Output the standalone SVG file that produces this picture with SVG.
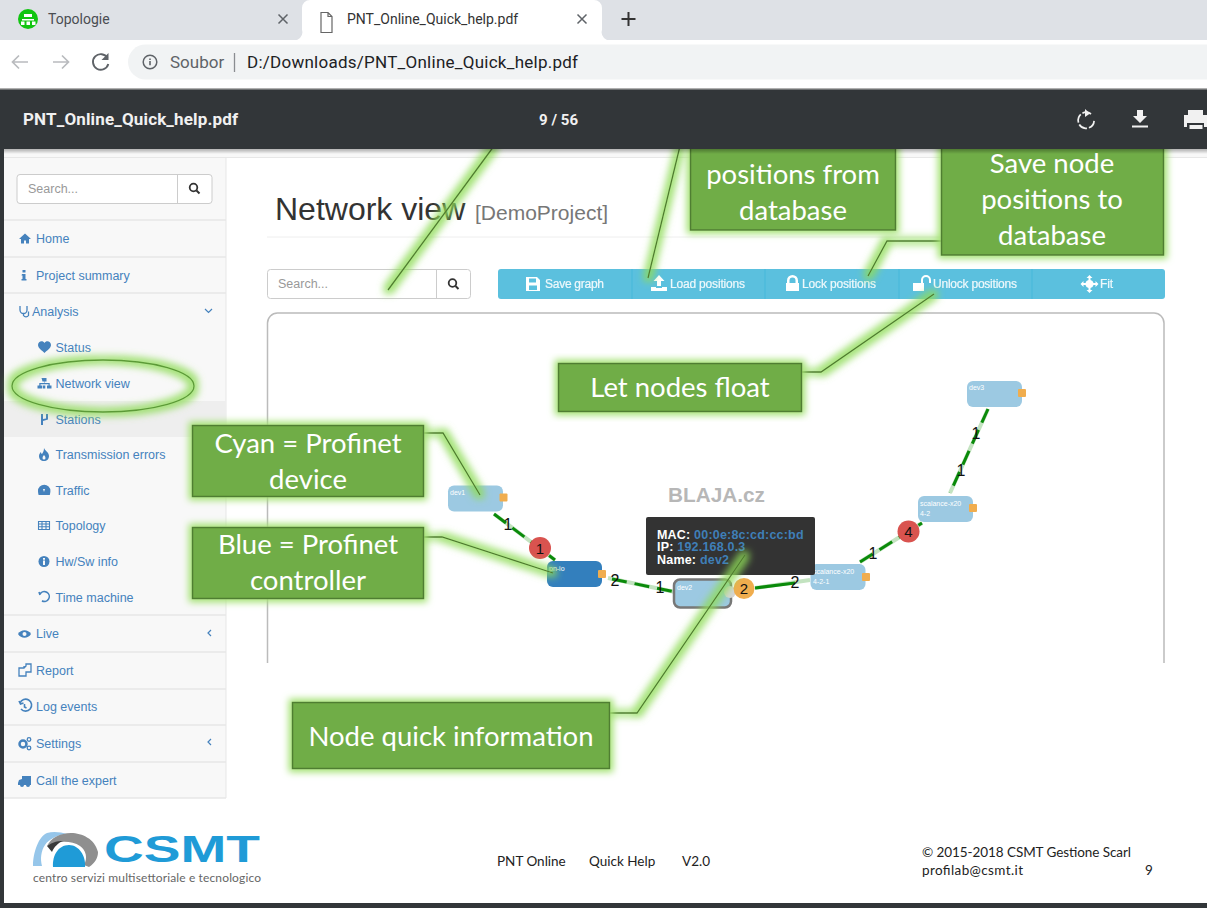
<svg xmlns="http://www.w3.org/2000/svg" width="1207" height="908" viewBox="0 0 1207 908">
<defs>
<style>
.r{font-family:Roboto,"Liberation Sans",sans-serif}
.s{font-family:"Liberation Sans",Arial,sans-serif}
.side{font-size:12.5px;fill:#4582bd}
.icon{fill:#4582bd}
.sep{stroke:#e7e7e7;stroke-width:1.5}
.box{fill:#70ad47;stroke:#507e32;stroke-width:1.500}
.ct{font-family:Lato,"Noto Sans",sans-serif;font-size:27.500px;fill:#fff;text-anchor:middle}
.tb{font-size:12px;fill:#fff;stroke:#fff;stroke-width:.2;opacity:.9}
.tbi{fill:#fff}
.ln{fill:#fff;stroke:#ccc;stroke-width:1}
.ph{font-size:12.5px;fill:#999}
.n{fill:#9cc9e2}
.nt{font-size:7px;fill:#fff}
.port{fill:#f0ad4e}
.eb{stroke:#c3e3c0;stroke-width:4;fill:none}
.ef{stroke:#0a8a0a;stroke-width:3;fill:none;stroke-dasharray:15 8}
.el{font-family:"Liberation Sans",sans-serif;font-size:16px;fill:#111;text-anchor:middle}
.foot{font-family:Lato,"Noto Sans",sans-serif;font-size:13.5px;fill:#222}
.tip{font-size:12.5px;font-weight:bold;fill:#fff;letter-spacing:.2px}
.tipv{fill:#3f7fb8}
</style>
<filter id="glow" x="-20%" y="-20%" width="140%" height="140%" filterUnits="objectBoundingBox">
<feMorphology in="SourceAlpha" operator="dilate" radius="3" result="d"/>
<feGaussianBlur in="d" stdDeviation="3.5" result="b"/>
<feFlood flood-color="#a3e272"/>
<feComposite in2="b" operator="in" result="g"/>
<feMerge><feMergeNode in="g"/><feMergeNode in="SourceGraphic"/></feMerge>
</filter>
<filter id="glowL" x="-20" y="-20" width="1300" height="1000" filterUnits="userSpaceOnUse">
<feMorphology in="SourceAlpha" operator="dilate" radius="3.5" result="d"/>
<feGaussianBlur in="d" stdDeviation="3.5" result="b"/>
<feFlood flood-color="#8fdc58" flood-opacity=".8"/>
<feComposite in2="b" operator="in" result="g"/>
<feMerge><feMergeNode in="g"/><feMergeNode in="SourceGraphic"/></feMerge>
</filter>
<linearGradient id="shade" x1="0" y1="0" x2="0" y2="1"><stop offset="0" stop-color="#000" stop-opacity=".3"/><stop offset="1" stop-color="#000" stop-opacity="0"/></linearGradient>
</defs>

<rect width="1207" height="908" fill="#fff"/>

<g id="page">
<rect x="0" y="149" width="4" height="759" fill="#323639"/>
<rect x="0" y="903" width="1207" height="5" fill="#323639"/>
<rect x="4" y="150" width="1203" height="8" fill="#f8f8f8"/>
<rect x="4" y="158" width="222" height="640" fill="#f8f8f8"/>
<line x1="226" y1="158" x2="226" y2="798" stroke="#e7e7e7"/>
<line x1="4" y1="157.500" x2="1207" y2="157.500" stroke="#e7e7e7"/>
<rect x="4" y="401" width="222" height="36" fill="#eeeeee"/>
<g class="seps">
<line class="sep" x1="4" x2="226" y1="220" y2="220"/>
<line class="sep" x1="4" x2="226" y1="257" y2="257"/>
<line class="sep" x1="4" x2="226" y1="293" y2="293"/>
<line class="sep" x1="4" x2="226" y1="615" y2="615"/>
<line class="sep" x1="4" x2="226" y1="652" y2="652"/>
<line class="sep" x1="4" x2="226" y1="689" y2="689"/>
<line class="sep" x1="4" x2="226" y1="725" y2="725"/>
<line class="sep" x1="4" x2="226" y1="762" y2="762"/>
<line class="sep" x1="4" x2="226" y1="798" y2="798"/>
</g>
</g>

<g id="sidebar-search">
<rect class="ln" x="17" y="174.500" width="195" height="29" rx="3"/>
<line x1="177.500" x2="177.500" y1="175" y2="203" stroke="#ccc"/>
<text class="s ph" x="28" y="193">Search...</text>
<circle cx="193.500" cy="187.500" r="3.800" fill="none" stroke="#333" stroke-width="1.800"/>
<line x1="196.500" y1="190.500" x2="199.500" y2="193.500" stroke="#333" stroke-width="2"/>
</g>

<g id="sidebar-menu">
<path class="icon" d="M19 239l6-5.500 6 5.500h-2v4.500h-3v-3h-2v3h-3v-4.500z"/>
<text class="s side" x="36" y="243">Home</text>
<path class="icon" d="M22.500 270h3v2.500h-3zM22 274h3.500v5h1v1.500h-5V279h1v-3.500h-1z"/>
<text class="s side" x="36" y="279.500">Project summary</text>
<path d="M20 306v4a3.500 3.500 0 0 0 7 0v-4M23.500 314v1.500a3 3 0 0 0 5 0v-4" fill="none" stroke="#4582bd" stroke-width="1.300"/>
<text class="s side" x="32" y="316">Analysis</text>
<path d="M205 309l3.500 3.500 3.500-3.500" fill="none" stroke="#4582bd" stroke-width="1.200"/>
<path class="icon" d="M38 345c0-4 5-5 6.500-2 1.500-3 6.500-2 6.500 2 0 3-4 5.500-6.500 8-2.500-2.500-6.500-5-6.500-8z"/>
<text class="s side" x="55.500" y="352">Status</text>
<path class="icon" d="M41.500 378h5v3.500h-1.800v1.500h5v2.500h1.800v3h-4.500v-3h1.500v-1.300h-8v1.300h1.500v3h-4.500v-3h1.800V383h5v-1.500h-1.800zM42.700 385.500h2.600v3h-2.600z"/>
<text class="s side" x="55.500" y="388">Network view</text>
<path class="icon" d="M41 414h2v5l3-.5V414h2v5.500l-5 1.500v4h-2z"/>
<text class="s side" x="55.500" y="424">Stations</text>
<path class="icon" d="M44 448c1 3 5 4 5 8 0 3-2 5-5 5s-5-2-5-5c0-2 1-3 2-4 0 1 .5 2 1 2 1-2 2-3 2-6zM44 455c-1 1-1.500 2-1.500 3a1.500 1.500 0 0 0 3 0c0-1-.5-2-1.500-3z"/>
<text class="s side" x="55.500" y="459">Transmission errors</text>
<path class="icon" d="M38 491a6.200 6.200 0 1 1 12.400 0c0 1-.3 3-.6 4h-11.200c-.3-1-.6-3-.6-4zM43 489l1 3 1-3z" fill-rule="evenodd"/>
<text class="s side" x="55.500" y="495">Traffic</text>
<path d="M38.500 521.500h11v8h-11zM38.500 524h11M38.500 526.700h11M42 521.500v8M46 521.500v8" fill="none" stroke="#4582bd" stroke-width="1.100"/>
<text class="s side" x="55.500" y="530">Topology</text>
<circle class="icon" cx="44" cy="561.500" r="5.500"/><path d="M43 558h2v1.700h-2zM43 560.500h2v4.500h-2z" fill="#f8f8f8"/>
<text class="s side" x="55.500" y="566">Hw/Sw info</text>
<path d="M40 594a5 5 0 1 1 2 7l3 .5M39 592l1 3" fill="none" stroke="#4582bd" stroke-width="1.600"/>
<text class="s side" x="55.500" y="602">Time machine</text>
<path class="icon" d="M18 634c3-5 10-5 13 0-3 5-10 5-13 0z"/><circle cx="24.500" cy="634" r="2" fill="#f8f8f8"/>
<text class="s side" x="36" y="638">Live</text>
<path d="M211 630l-3 3 3 3" fill="none" stroke="#4582bd" stroke-width="1.200"/>
<path d="M19 668h5l2-2v-2h5v8h-5v4h-7zM24 668v-2" fill="none" stroke="#4582bd" stroke-width="1.300"/>
<text class="s side" x="36" y="675">Report</text>
<path d="M20 703a6 6 0 1 1 1 6M19 701l1.500 3 3-1M24.500 704v3l2 1" fill="none" stroke="#4582bd" stroke-width="1.600"/>
<text class="s side" x="36" y="711">Log events</text>
<circle cx="23" cy="744" r="3.500" fill="none" stroke="#4582bd" stroke-width="2.500"/><circle cx="29" cy="739.500" r="1.800" fill="none" stroke="#4582bd" stroke-width="1.300"/><circle cx="29" cy="748" r="1.800" fill="none" stroke="#4582bd" stroke-width="1.300"/>
<text class="s side" x="36" y="748">Settings</text>
<path d="M211 739l-3 3 3 3" fill="none" stroke="#4582bd" stroke-width="1.200"/>
<path class="icon" d="M18 783l1-3 3-1v-3h9v9H18z"/><circle class="icon" cx="22" cy="785" r="2"/><circle class="icon" cx="28" cy="785" r="2"/>
<text class="s side" x="36" y="785">Call the expert</text>
</g>

<g id="header">
<text class="s" x="275" y="220" font-size="32" fill="#333">Network view</text>
<text class="s" x="475" y="220" font-size="21" fill="#777">[DemoProject]</text>
<line x1="267" x2="1164" y1="237" y2="237" stroke="#eee"/>
</g>

<g id="page-search">
<rect class="ln" x="267.500" y="269.500" width="203" height="29" rx="3"/>
<line x1="436.500" x2="436.500" y1="270" y2="298" stroke="#ccc"/>
<text class="s ph" x="278" y="288">Search...</text>
<circle cx="452.500" cy="283" r="3.800" fill="none" stroke="#333" stroke-width="1.800"/>
<line x1="455.500" y1="286" x2="458.500" y2="289" stroke="#333" stroke-width="2"/>
</g>

<g id="toolbar">
<rect x="498" y="269" width="667" height="30" rx="3" fill="#5bc0de"/>
<path stroke="#46b8da" stroke-width="1" d="M632 269v30M765 269v30M899 269v30M1032 269v30"/>
<path class="tbi" d="M526 277h11l3 3v11h-14zM529 278.500v4h7v-4zM529 285.500v4.500h8v-4.500z" fill-rule="evenodd"/>
<text class="s tb" x="545" y="288" textLength="59">Save graph</text>
<path class="tbi" d="M659 275l5.500 6H661v5h-4v-5h-3.500zM651 287h5v1h6v-1h5v4h-16z"/>
<text class="s tb" x="670" y="288" textLength="75">Load positions</text>
<path class="tbi" d="M787 283v-2.500a5.500 5.500 0 0 1 11 0V283h1v8h-13v-8zM789.500 283h6v-2.500a3 3 0 0 0-6 0z"/>
<text class="s tb" x="802" y="288" textLength="74">Lock positions</text>
<path class="tbi" d="M913 283h8v-3a5 5 0 0 1 10 0v3h-2v-3a3 3 0 0 0-6 0v3h1v8h-11z"/>
<text class="s tb" x="933" y="288" textLength="84">Unlock positions</text>
<path class="tbi" d="M1089.500 275l3 3h-2v2a4 4 0 0 1 3 3h2v-2l3 3-3 3v-2h-2a4 4 0 0 1-3 3v2h2l-3 3-3-3h2v-2a4 4 0 0 1-3-3h-2v2l-3-3 3-3v2h2a4 4 0 0 1 3-3v-2h-2z"/>
<text class="s tb" x="1100" y="288" textLength="13">Fit</text>
</g>

<path id="graph-frame" d="M267.500 663V323a10 10 0 0 1 10-10H1154a10 10 0 0 1 10 10V663" fill="#fff" stroke="#bbb" stroke-width="1.500"/>

<text id="watermark" class="s" x="668" y="501.500" font-size="20" font-weight="bold" fill="#b7b7b7" textLength="97" lengthAdjust="spacingAndGlyphs">BLAJA.cz</text>

<g id="connectors">
<path class="eb" d="M494 514L555 560"/><path class="ef" d="M494 514L555 560"/>
<path class="eb" d="M608 578L675 592"/><path class="ef" d="M612 579L675 592"/>
<path class="eb" d="M755 588L810 580"/><path class="ef" d="M755 588L795 583" style="stroke-dasharray:none"/>
<path class="eb" d="M860 562L922 523"/><path class="ef" d="M860 562L922 523"/>
<path class="eb" d="M988 409L950 493"/><path class="ef" d="M988 409L950 493"/>
</g>

<g id="edge-labels">
<text class="el" x="508" y="530">1</text>
<text class="el" x="615" y="586">2</text>
<text class="el" x="660" y="593">1</text>
<text class="el" x="795" y="588">2</text>
<text class="el" x="873" y="559">1</text>
<text class="el" x="961" y="476">1</text>
<text class="el" x="976" y="439">1</text>
</g>

<g id="node-dev1">
<rect class="n" x="448" y="485.500" width="55" height="26" rx="6"/>
<rect class="port" x="499.500" y="493.500" width="8" height="8" rx="1"/>
<text class="s nt" x="450" y="495">dev1</text>
</g>
<g id="node-pn-io">
<rect x="547" y="561" width="55" height="26" rx="6" fill="#337fbd"/>
<rect class="port" x="598" y="570" width="8" height="8" rx="1"/>
<text class="s nt" x="549" y="571">pn-io</text>
</g>
<g id="node-dev2">
<rect class="n" x="674" y="579.500" width="57" height="28" rx="6" stroke="#777" stroke-width="2.500"/>
<text class="s nt" x="677" y="590">dev2</text>
<circle cx="730" cy="592" r="6" fill="#d5d5d5"/>
</g>
<g id="node-scalance-421">
<rect class="n" x="810.500" y="564" width="55" height="26" rx="6"/>
<rect class="port" x="862" y="573" width="8" height="8" rx="1"/>
<text class="s nt" x="813" y="574">scalance-x20</text>
<text class="s nt" x="813" y="584">4-2-1</text>
</g>
<g id="node-scalance-42">
<rect class="n" x="918" y="496" width="55" height="26" rx="6"/>
<rect class="port" x="969" y="504" width="8" height="8" rx="1"/>
<text class="s nt" x="920" y="506">scalance-x20</text>
<text class="s nt" x="920" y="516">4-2</text>
</g>
<g id="node-dev3">
<rect class="n" x="967" y="381" width="55" height="26" rx="6"/>
<rect class="port" x="1018" y="389" width="8" height="8" rx="1"/>
<text class="s nt" x="969" y="390">dev3</text>
</g>

<g id="badge-red-1"><circle cx="540" cy="548" r="11" fill="#d9534f"/><text class="el" x="540" y="554" style="font-size:15px">1</text></g>
<g id="badge-orange-2"><circle cx="744" cy="588.500" r="10.500" fill="#f0ad4e"/><text class="el" x="744" y="594" style="font-size:15px">2</text></g>
<g id="badge-red-4"><circle cx="908.500" cy="531.500" r="11" fill="#d9534f"/><text class="el" x="908.500" y="537" style="font-size:15px">4</text></g>

<g id="tooltip">
<rect x="646" y="517" width="169" height="58" rx="2" fill="#333"/>
<text class="s tip" x="657" y="538.500">MAC: <tspan class="tipv">00:0e:8c:cd:cc:bd</tspan></text>
<text class="s tip" x="657" y="551">IP: <tspan class="tipv">192.168.0.3</tspan></text>
<text class="s tip" x="657" y="563.500">Name: <tspan class="tipv">dev2</tspan></text>
</g>

<g id="annotations">
<g fill="none" stroke="#4f7a30" stroke-width="1.300" filter="url(#glowL)">
<path d="M388 290L494 146"/>
<path d="M648 278L680 146"/>
<path d="M868 276L887 241H941"/>
<path d="M934 294L821 372H802"/>
<path d="M424 433H443L480 495"/>
<path d="M424 537H442L553 573"/>
<path d="M610 713H637L745 555"/>
<ellipse cx="103" cy="386" rx="91" ry="26" stroke="#5c9a38"/>
</g>
<g id="note-load"><g filter="url(#glow)"><rect class="box" x="690.500" y="130" width="205" height="100"/></g>
<text class="ct" x="793" y="184">positions from</text>
<text class="ct" x="793" y="220">database</text></g>
<g id="note-save"><g filter="url(#glow)"><rect class="box" x="941.500" y="130" width="222" height="125"/></g>
<text class="ct" x="1052" y="173">Save node</text>
<text class="ct" x="1052" y="209">positions to</text>
<text class="ct" x="1052" y="245">database</text></g>
<g id="note-float"><g filter="url(#glow)"><rect class="box" x="558.500" y="363.500" width="243" height="48"/></g>
<text class="ct" x="680" y="397">Let nodes float</text></g>
<g id="note-cyan"><g filter="url(#glow)"><rect class="box" x="192.500" y="425.500" width="231" height="71"/></g>
<text class="ct" x="308" y="453">Cyan = Profinet</text>
<text class="ct" x="308" y="489">device</text></g>
<g id="note-blue"><g filter="url(#glow)"><rect class="box" x="192.500" y="527.500" width="231" height="71"/></g>
<text class="ct" x="308" y="554">Blue = Profinet</text>
<text class="ct" x="308" y="590">controller</text></g>
<g id="note-quick"><g filter="url(#glow)"><rect class="box" x="292.500" y="702.500" width="317" height="66"/></g>
<text class="ct" x="451" y="746">Node quick information</text></g>
</g>

<g id="footer">
<path d="M33 866c0-14 6-30 14-33 6-2 14-1 20 1-10 1-18 5-22 11-4 6-5 14-3 21z" fill="#96c6ea"/>
<path d="M47 846c4-8 13-13 24-13 11 0 24 6 27 19 0 6-3 11-9 15l-5-2c4-7 2-15-4-19-9-6-24-5-33 0z" fill="#8f8f8f"/>
<path d="M47 846c6-4 10-5 16-5-5 2-9 6-11 11z" fill="#3a3a3a"/>
<path d="M53 867c-1-11 5-22 16-22 10 0 17 11 16 22z" fill="#1f9bd7"/>
<text x="104" y="862" font-family="Liberation Sans,sans-serif" font-weight="bold" font-size="36" fill="#1f9bd7" textLength="156" lengthAdjust="spacingAndGlyphs">CSMT</text>
<text x="33" y="881.500" font-family="Lato,sans-serif" font-size="12" fill="#666" textLength="228">centro servizi multisettoriale e tecnologico</text>
<text class="foot" x="497" y="866">PNT Online</text>
<text class="foot" x="589" y="866">Quick Help</text>
<text class="foot" x="682" y="866">V2.0</text>
<text class="foot" x="922" y="857" textLength="209">© 2015-2018 CSMT Gestione Scarl</text>
<text class="foot" x="922" y="875" textLength="101">profilab@csmt.it</text>
<text class="foot" x="1145" y="875">9</text>
</g>

<g id="pdf-toolbar">
<rect x="4" y="149" width="1203" height="5" fill="url(#shade)"/>
<rect x="0" y="89" width="1207" height="60" fill="#323639"/>
<rect x="0" y="88" width="1207" height="1.500" fill="#b0b0b0"/>
<text class="r" x="23" y="125" font-size="17" font-weight="700" fill="#f1f1f1" textLength="215">PNT_Online_Quick_help.pdf</text>
<text class="r" x="539" y="125" font-size="15" font-weight="700" fill="#f1f1f1" textLength="39">9 / 56</text>
<path d="M1091 114a8 8 0 1 0 3 5" fill="none" stroke="#f1f1f1" stroke-width="1.700" stroke-dasharray="9 2"/>
<path d="M1085 109l5 4.500-5 3.500z" fill="#f1f1f1"/>
<path d="M1137 110h6v6h4l-7 7-7-7h4zM1132 125.500h16v2h-16z" fill="#f1f1f1"/>
<path d="M1188 110h15v5h4v12h-3v-4h-17v4h-3v-12h4zM1189.500 125h13v4h-13z" fill="#f1f1f1"/>
</g>

<g id="browser-chrome">
<rect x="0" y="0" width="1207" height="40" fill="#dee1e6"/>
<path d="M292 40a8 8 0 0 0 10-10V8a8 8 0 0 1 8-8h284a8 8 0 0 1 8 8v22a8 8 0 0 0 10 10z" fill="#fff"/>
<circle cx="28" cy="19" r="10" fill="#11c511"/>
<path d="M24 14h8v3h-8zM22 19h12v1.500H22zM21 21.500h3.500v3.500H21zM26.500 21.500h3.500v3.500h-3.500zM32 21.500h3.500v3.500H32z" fill="#fff"/>
<text class="r" x="48" y="24" font-size="14" fill="#4a4d52">Topologie</text>
<path d="M278.500 14.500l9 9M287.500 14.500l-9 9" stroke="#5f6368" stroke-width="1.500"/>
<path d="M321 12.500h7l4 4v16h-11zM328 12.500v4h4" fill="#fff" stroke="#666" stroke-width="1.200"/>
<text class="r" x="347" y="24" font-size="14" fill="#333">PNT_Online_Quick_help.pdf</text>
<path d="M577.500 14.500l9 9M586.500 14.500l-9 9" stroke="#5f6368" stroke-width="1.500"/>
<path d="M628.500 12v14M621.500 19h14" stroke="#333" stroke-width="2"/>
<rect x="0" y="40" width="1207" height="48" fill="#fff"/>
<path d="M128 62a17.500 17.500 0 0 1 17.500-17.500H1207v35H145.500A17.500 17.500 0 0 1 128 62z" fill="#f1f3f4"/>
<path d="M28 62H13M19 55.500L12.500 62l6.500 6.500" fill="none" stroke="#b9bbbe" stroke-width="1.700"/>
<path d="M53 62h15M62 55.500L68.500 62 62 68.500" fill="none" stroke="#b9bbbe" stroke-width="1.700"/>
<path d="M107.500 58a7.800 7.800 0 1 0 .8 6" fill="none" stroke="#5f6368" stroke-width="1.900"/>
<path d="M108.500 53v7h-7z" fill="#5f6368"/>
<circle cx="150" cy="62" r="6.800" fill="none" stroke="#5f6368" stroke-width="1.500"/>
<path d="M149.200 58.500h1.600v1.600h-1.600zM149.200 61h1.600v4.300h-1.600z" fill="#5f6368"/>
<text class="r" x="170" y="68" font-size="17" fill="#5f6368">Soubor</text>
<line x1="234.500" x2="234.500" y1="53" y2="72" stroke="#8a8d91" stroke-width="1.300"/>
<text class="r" x="247" y="68" font-size="17" fill="#202124" textLength="331">D:/Downloads/PNT_Online_Quick_help.pdf</text>
</g>
</svg>
